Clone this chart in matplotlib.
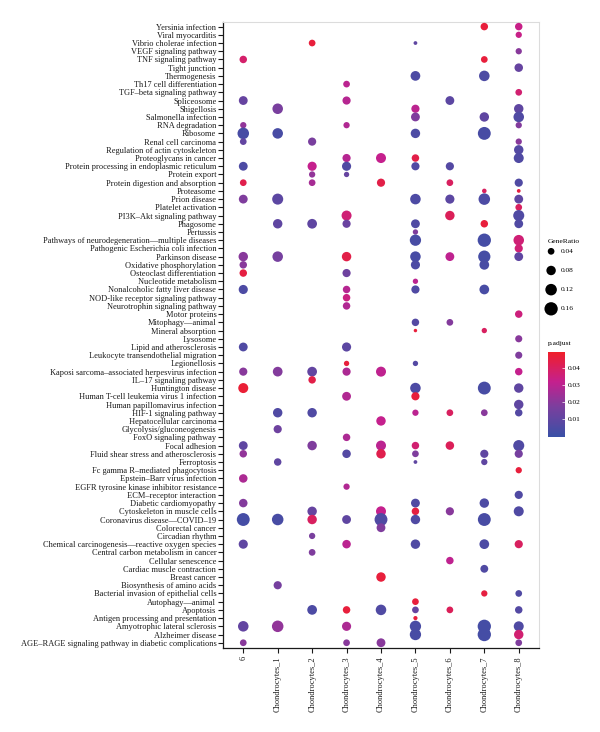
import numpy as np
import matplotlib.pyplot as plt
from matplotlib.colors import LinearSegmentedColormap, Normalize

plt.rcParams['font.family'] = ['Liberation Serif', 'DejaVu Serif']

# KEGG terms, listed top to bottom as on the y axis
pathways = [
    'Yersinia infection', 'Viral myocarditis', 'Vibrio cholerae infection',
    'VEGF signaling pathway', 'TNF signaling pathway', 'Tight junction',
    'Thermogenesis', 'Th17 cell differentiation', 'TGF–beta signaling pathway',
    'Spliceosome', 'Shigellosis', 'Salmonella infection', 'RNA degradation',
    'Ribosome', 'Renal cell carcinoma', 'Regulation of actin cytoskeleton',
    'Proteoglycans in cancer', 'Protein processing in endoplasmic reticulum',
    'Protein export', 'Protein digestion and absorption', 'Proteasome',
    'Prion disease', 'Platelet activation', 'PI3K–Akt signaling pathway',
    'Phagosome', 'Pertussis', 'Pathways of neurodegeneration—multiple diseases',
    'Pathogenic Escherichia coli infection', 'Parkinson disease',
    'Oxidative phosphorylation', 'Osteoclast differentiation',
    'Nucleotide metabolism', 'Nonalcoholic fatty liver disease',
    'NOD-like receptor signaling pathway', 'Neurotrophin signaling pathway',
    'Motor proteins', 'Mitophagy—animal', 'Mineral absorption', 'Lysosome',
    'Lipid and atherosclerosis', 'Leukocyte transendothelial migration',
    'Legionellosis', 'Kaposi sarcoma–associated herpesvirus infection',
    'IL–17 signaling pathway', 'Huntington disease',
    'Human T-cell leukemia virus 1 infection', 'Human papillomavirus infection',
    'HIF-1 signaling pathway', 'Hepatocellular carcinoma',
    'Glycolysis/gluconeogenesis', 'FoxO signaling pathway', 'Focal adhesion',
    'Fluid shear stress and atherosclerosis', 'Ferroptosis',
    'Fc gamma R–mediated phagocytosis', 'Epstein–Barr virus infection',
    'EGFR tyrosine kinase inhibitor resistance', 'ECM–receptor interaction',
    'Diabetic cardiomyopathy', 'Cytoskeleton in muscle cells',
    'Coronavirus disease—COVID–19', 'Colorectal cancer', 'Circadian rhythm',
    'Chemical carcinogenesis—reactive oxygen species',
    'Central carbon metabolism in cancer', 'Cellular senescence',
    'Cardiac muscle contraction', 'Breast cancer',
    'Biosynthesis of amino acids', 'Bacterial invasion of epithelial cells',
    'Autophagy—animal', 'Apoptosis', 'Antigen processing and presentation',
    'Amyotrophic lateral sclerosis', 'Alzheimer disease',
    'AGE–RAGE signaling pathway in diabetic complications',
]

clusters = ['6', 'Chondrocytes_1', 'Chondrocytes_2', 'Chondrocytes_3',
            'Chondrocytes_4', 'Chondrocytes_5', 'Chondrocytes_6',
            'Chondrocytes_7', 'Chondrocytes_8']

# (row number in pathways, 1 = top; GeneRatio; p.adjust)
cl_6 = [(5, 0.05, 0.038), (10, 0.07, 0.012), (13, 0.035, 0.022),
        (14, 0.12, 0.004), (15, 0.04, 0.011), (18, 0.07, 0.005),
        (20, 0.04, 0.043), (22, 0.07, 0.018), (29, 0.08, 0.020),
        (30, 0.05, 0.020), (31, 0.05, 0.045), (33, 0.075, 0.005),
        (40, 0.07, 0.006), (43, 0.06, 0.020), (45, 0.09, 0.047),
        (52, 0.07, 0.010), (53, 0.05, 0.022), (56, 0.065, 0.027),
        (59, 0.065, 0.019), (61, 0.15, 0.003), (64, 0.075, 0.010),
        (74, 0.10, 0.011), (76, 0.04, 0.020)]
cl_c1 = [(11, 0.10, 0.017), (14, 0.10, 0.004), (22, 0.11, 0.009),
         (25, 0.08, 0.010), (29, 0.10, 0.016), (43, 0.085, 0.019),
         (48, 0.08, 0.006), (50, 0.06, 0.014), (54, 0.05, 0.010),
         (61, 0.12, 0.004), (69, 0.06, 0.016), (74, 0.12, 0.022)]
cl_c2 = [(3, 0.04, 0.046), (15, 0.06, 0.017), (18, 0.075, 0.032),
         (19, 0.035, 0.022), (20, 0.04, 0.026), (25, 0.085, 0.010),
         (43, 0.085, 0.011), (44, 0.05, 0.044), (48, 0.08, 0.006),
         (52, 0.08, 0.018), (60, 0.08, 0.012), (61, 0.08, 0.040),
         (63, 0.035, 0.017), (65, 0.04, 0.018), (72, 0.085, 0.005)]
cl_c3 = [(8, 0.04, 0.030), (10, 0.06, 0.029), (13, 0.035, 0.028),
         (17, 0.06, 0.029), (18, 0.075, 0.006), (19, 0.025, 0.012),
         (24, 0.09, 0.036), (25, 0.06, 0.013), (29, 0.08, 0.044),
         (31, 0.06, 0.014), (33, 0.05, 0.029), (34, 0.05, 0.034),
         (35, 0.05, 0.028), (40, 0.075, 0.009), (42, 0.025, 0.046),
         (43, 0.06, 0.027), (46, 0.07, 0.028), (51, 0.05, 0.027),
         (53, 0.065, 0.007), (57, 0.035, 0.028), (61, 0.07, 0.010),
         (64, 0.065, 0.030), (72, 0.05, 0.046), (74, 0.075, 0.027),
         (76, 0.04, 0.020)]
cl_c4 = [(17, 0.09, 0.032), (20, 0.06, 0.044), (43, 0.09, 0.031),
         (49, 0.08, 0.032), (52, 0.09, 0.030), (53, 0.08, 0.043),
         (60, 0.09, 0.032), (61, 0.15, 0.006), (62, 0.07, 0.018),
         (68, 0.08, 0.046), (72, 0.10, 0.006), (76, 0.07, 0.020)]
cl_c5 = [(3, 0.012, 0.010), (7, 0.085, 0.005), (11, 0.06, 0.030),
         (12, 0.07, 0.018), (14, 0.08, 0.005), (17, 0.05, 0.044),
         (18, 0.06, 0.006), (22, 0.10, 0.005), (25, 0.07, 0.006),
         (26, 0.025, 0.018), (27, 0.115, 0.004), (29, 0.10, 0.004),
         (30, 0.075, 0.005), (32, 0.025, 0.030), (33, 0.06, 0.006),
         (37, 0.05, 0.007), (38, 0.01, 0.046), (42, 0.025, 0.007),
         (45, 0.10, 0.005), (46, 0.06, 0.046), (48, 0.035, 0.030),
         (52, 0.05, 0.037), (53, 0.04, 0.018), (54, 0.012, 0.010),
         (59, 0.07, 0.006), (60, 0.05, 0.045), (61, 0.08, 0.006),
         (64, 0.08, 0.006), (71, 0.04, 0.046), (72, 0.04, 0.012),
         (73, 0.015, 0.046), (74, 0.115, 0.004), (75, 0.115, 0.004)]
cl_c6 = [(10, 0.07, 0.009), (18, 0.06, 0.007), (20, 0.04, 0.040),
         (22, 0.075, 0.009), (24, 0.08, 0.041), (29, 0.07, 0.031),
         (37, 0.04, 0.019), (48, 0.04, 0.040), (52, 0.065, 0.041),
         (60, 0.06, 0.020), (66, 0.05, 0.031), (72, 0.04, 0.041)]
cl_c7 = [(1, 0.05, 0.046), (5, 0.04, 0.046), (7, 0.10, 0.005),
         (12, 0.08, 0.010), (14, 0.15, 0.004), (21, 0.018, 0.040),
         (22, 0.12, 0.005), (25, 0.05, 0.046), (27, 0.16, 0.003),
         (29, 0.135, 0.003), (30, 0.085, 0.004), (33, 0.085, 0.004),
         (38, 0.025, 0.040), (45, 0.15, 0.004), (48, 0.04, 0.020),
         (53, 0.06, 0.010), (54, 0.035, 0.010), (59, 0.08, 0.005),
         (61, 0.15, 0.004), (64, 0.085, 0.005), (67, 0.055, 0.006),
         (70, 0.035, 0.045), (74, 0.16, 0.003), (75, 0.16, 0.003)]
cl_c8 = [(1, 0.05, 0.033), (2, 0.035, 0.033), (4, 0.035, 0.020),
         (6, 0.065, 0.012), (9, 0.04, 0.037), (11, 0.08, 0.010),
         (12, 0.10, 0.006), (13, 0.035, 0.019), (15, 0.035, 0.020),
         (16, 0.08, 0.007), (17, 0.09, 0.006), (20, 0.06, 0.006),
         (21, 0.012, 0.045), (22, 0.07, 0.010), (23, 0.04, 0.040),
         (24, 0.11, 0.006), (25, 0.07, 0.006), (27, 0.10, 0.036),
         (28, 0.06, 0.036), (29, 0.07, 0.010), (36, 0.05, 0.035),
         (39, 0.045, 0.020), (41, 0.045, 0.018), (43, 0.05, 0.032),
         (45, 0.08, 0.010), (47, 0.08, 0.010), (48, 0.05, 0.007),
         (52, 0.11, 0.006), (53, 0.06, 0.016), (55, 0.035, 0.046),
         (58, 0.06, 0.006), (60, 0.09, 0.006), (64, 0.06, 0.040),
         (70, 0.04, 0.006), (72, 0.05, 0.007), (74, 0.09, 0.006),
         (75, 0.08, 0.037), (76, 0.04, 0.018)]
cluster_dots = [cl_6, cl_c1, cl_c2, cl_c3, cl_c4, cl_c5, cl_c6, cl_c7, cl_c8]

legend_ratios = [0.04, 0.08, 0.12, 0.16]
cbar_ticks = [0.01, 0.02, 0.03, 0.04]

cmap = LinearSegmentedColormap.from_list(
    'padj', [(0, '#3a50a6'), (0.35, '#7a3f9e'), (0.65, '#c4208e'), (1, '#ef1f2b')])
norm = Normalize(vmin=0.0, vmax=0.049)


def dot_size(r):
    # marker area in pt^2 (area in px -> pt at 100 dpi)
    area_px = np.clip(45 + (np.asarray(r) - 0.04) * 1100, 8, None)
    return area_px * 0.72 ** 2


n = len(pathways)
fig = plt.figure(figsize=(6, 7.32), dpi=100)
ax = fig.add_axes([0.371, 0.1152, 0.528, 0.8552])

for j, dots in enumerate(cluster_dots):
    rows = np.array([d[0] for d in dots])
    ratio = np.array([d[1] for d in dots])
    padj = np.array([d[2] for d in dots])
    ax.scatter(np.full(len(rows), j), n - rows + 1, s=dot_size(ratio),
               c=padj, cmap=cmap, norm=norm, edgecolors='none', zorder=3)

ax.set_xlim(-0.6, len(clusters) - 0.4)
ax.set_ylim(0.4, n + 0.6)
ax.set_xticks(range(len(clusters)))
ax.set_xticklabels(clusters, rotation=90, fontsize=6, va='top', ha='center')
ax.set_yticks(np.arange(n, 0, -1))
ax.set_yticklabels(pathways, fontsize=6.05)
ax.tick_params(length=3.5, width=0.8, pad=1, colors='#1a1a1a')
ax.tick_params(axis='x', pad=2.5)
for side in ['left', 'bottom']:
    ax.spines[side].set_linewidth(0.9)
    ax.spines[side].set_color('#1a1a1a')
for side in ['top', 'right']:
    ax.spines[side].set_linewidth(0.8)
    ax.spines[side].set_color('#dcdcdc')

# GeneRatio size legend
lax = fig.add_axes([0.905, 0.565, 0.09, 0.11])
lax.set_xlim(0, 1)
lax.set_ylim(4.5, 0.3)
lax.axis('off')
lax.scatter(np.full(4, 0.15), np.arange(1, 5), s=dot_size(legend_ratios),
            color='black', edgecolors='none')
for k, r in enumerate(legend_ratios):
    lax.text(0.33, k + 1, f'{r:.2f}', fontsize=5.3, va='center', ha='left')
fig.text(0.913, 1 - 241.7 / 732, 'GeneRatio', fontsize=5.4, va='center', ha='left')

# p.adjust colorbar
cax = fig.add_axes([0.914, 1 - 436.7 / 732, 0.028, 84.4 / 732])
cb = fig.colorbar(plt.cm.ScalarMappable(norm=norm, cmap=cmap), cax=cax,
                  ticks=cbar_ticks)
cb.outline.set_visible(False)
cb.ax.tick_params(labelsize=5.3, length=2, width=0.5, color='white',
                  direction='in', pad=2)
cb.ax.set_yticklabels([f'{t:.2f}' for t in cbar_ticks])
fig.text(0.913, 1 - 343.3 / 732, 'p.adjust', fontsize=5.4, va='center', ha='left')

fig.savefig('out.png', dpi=100)
